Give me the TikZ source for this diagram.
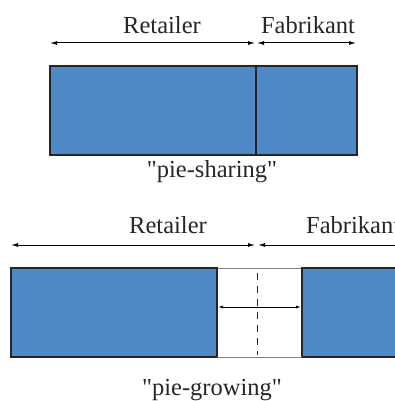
\documentclass[tikz,border=0pt]{standalone}
\usepackage{fontspec}
\setmainfont{Liberation Serif}[Ligatures=TeXOff]
\usetikzlibrary{arrows.meta}
\definecolor{pieblue}{RGB}{79,137,199}
\tikzset{
  lbl/.style={font=\fontsize{24.5}{28}\selectfont, text=black!85, inner sep=0pt},
  share/.style={fill=pieblue, draw=black!85, line width=1.3pt},
  span/.style={line width=1pt, {Latex[length=7pt,width=4pt]}-{Latex[length=7pt,width=4pt]}},
  smallspan/.style={line width=0.9pt, {Latex[length=5pt,width=3pt]}-{Latex[length=5pt,width=3pt]}}
}
\begin{document}
\begin{tikzpicture}[x=1pt,y=-1pt]
\useasboundingbox (0,0) rectangle (395,401);
\clip (0,0) rectangle (395,401);

% pie-sharing: fixed pie, split between retailer and manufacturer
\node[lbl] (r1) at (162,25) {Retailer};
\node[lbl] (f1) at (308,25) {Fabrikant};
\coordinate (a1l) at (50,43);
\coordinate (a1m) at (255,43);
\coordinate (a1n) at (257,43);
\coordinate (a1r) at (356,43);
\draw[span] (a1l) -- (a1m);
\draw[span] (a1n) -- (a1r);
\draw[share] (50,66) rectangle (256,155);
\draw[share] (256,66) rectangle (357,155);
\node[lbl] (ps) at (212,172) {"pie-sharing"};

% pie-growing: both shares widen, the gap is the extra value
\node[lbl] (r2) at (168,225) {Retailer};
\node[lbl, anchor=west] (f2) at (306,225) {Fabrikant};
\coordinate (a2l) at (11,245);
\coordinate (a2m) at (255,245);
\coordinate (a2n) at (258,245);
\coordinate (a2r) at (410,245);
\draw[span] (a2l) -- (a2m);
\draw[span] (a2n) -- (a2r);
\draw[share] (11,268) rectangle (217,357);
\draw[share] (302,268) rectangle (420,357);
\draw[black!50, line width=1pt] (217,268) -- (302,268) (217,357) -- (302,357);
\draw[black!85, line width=1.3pt] (217,268) -- (217,357) (302,268) -- (302,357);
\coordinate (dt) at (257,273);
\coordinate (db) at (257,355);
\draw[black!85, line width=1pt, dash pattern=on 7pt off 6pt] (dt) -- (db);
\coordinate (gl) at (218,307);
\coordinate (gr) at (301,307);
\draw[smallspan] (gl) -- (gr);
\node[lbl] (pg) at (212,390) {"pie-growing"};
\end{tikzpicture}
\end{document}
